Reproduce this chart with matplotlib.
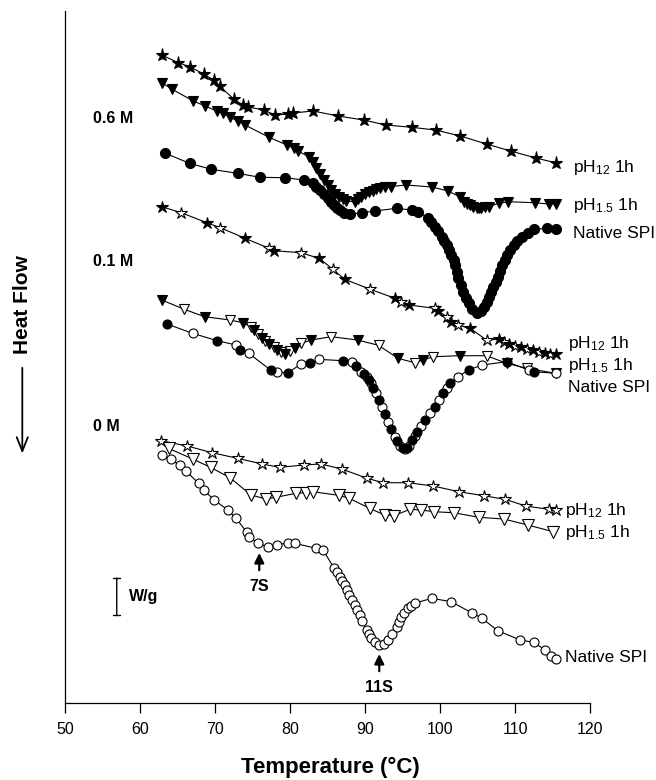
import numpy as np
import matplotlib.pyplot as plt

plt.rcParams['font.family'] = ['Liberation Sans', 'DejaVu Sans']
plt.rcParams['mathtext.fontset'] = 'custom'
plt.rcParams['mathtext.rm'] = 'Liberation Sans'
plt.rcParams['mathtext.default'] = 'regular'

# temperature (C) and heat flow (arbitrary offset units, 3.7 units = 1 W/g)
# ---- 0.6 M ----
t06_ph12 = [62.9, 65.1, 66.6, 68.5, 69.8, 70.6, 72.5, 73.7, 74.4, 76.5, 78.0, 79.7,
            80.4, 83.1, 86.4, 89.8, 92.8, 96.2, 99.4, 102.7, 106.2, 109.4, 112.8, 115.5]
hf06_ph12 = [66.5, 65.73, 65.33, 64.6, 64.0, 63.4, 62.1, 61.5, 61.3, 61.0, 60.5, 60.6,
             60.7, 60.9, 60.4, 60.0, 59.5, 59.27, 59.0, 58.4, 57.6, 56.9, 56.2, 55.7]

t06_ph15 = [62.9, 64.3, 67.1, 68.6, 70.2, 71.0, 72.0, 73.0, 74.0, 77.2, 79.6, 80.5, 81.0,
            82.5, 83.0, 83.5, 84.0, 84.5, 85.0, 85.5, 86.0, 86.5, 87.0, 87.4,
            88.6, 89.0, 89.5, 90.0, 90.5, 91.0, 91.5, 92.0, 92.7, 93.5, 95.5, 98.9,
            101.1, 102.6, 103.2, 103.6, 104.0, 104.4, 104.9, 105.2, 105.5, 106.0, 106.5,
            107.8, 109.1, 112.6, 114.5, 115.5]
hf06_ph15 = [63.73, 63.07, 61.9, 61.43, 60.9, 60.67, 60.27, 59.93, 59.5, 58.27, 57.5, 57.17, 56.93,
             56.33, 55.8, 55.2, 54.6, 54.0, 53.5, 53.0, 52.6, 52.3, 52.1, 51.9,
             51.83, 52.1, 52.35, 52.6, 52.8, 52.95, 53.1, 53.2, 53.3, 53.35, 53.5, 53.3,
             52.9, 52.33, 51.83, 51.65, 51.5, 51.35, 51.2, 51.2, 51.25, 51.3, 51.33,
             51.67, 51.83, 51.73, 51.6, 51.6]

t06_nat = [63.3, 66.6, 69.5, 73.0, 76.0, 79.3, 81.9, 83.0, 83.5, 84.0, 84.5, 85.0, 85.4,
           85.8, 86.2, 86.6, 87.2, 88.0, 89.6, 91.3, 94.2, 96.2, 97.1, 98.4, 98.8, 99.3,
           99.7, 100.2, 100.5, 100.9, 101.2, 101.5, 101.8, 102.0, 102.2, 102.4, 102.8,
           103.1, 103.5, 103.8, 104.3, 104.9, 105.4, 105.8, 106.2, 106.5, 106.8, 107.1,
           107.4, 107.7, 108.0, 108.2, 108.6, 108.9, 109.3, 109.8, 110.3, 110.9, 111.7,
           112.5, 114.3, 115.4]
hf06_nat = [56.7, 55.67, 55.07, 54.67, 54.27, 54.23, 54.0, 53.67, 53.3, 53.0, 52.6, 52.2, 51.85,
            51.5, 51.2, 51.0, 50.7, 50.57, 50.73, 50.9, 51.17, 51.0, 50.83, 50.17, 49.8, 49.33,
            48.9, 48.33, 47.9, 47.5, 47.0, 46.5, 46.0, 45.5, 44.8, 44.17, 43.5,
            42.83, 42.2, 41.67, 41.1, 40.67, 40.9, 41.33, 41.8, 42.33, 42.8, 43.33,
            43.8, 44.33, 44.9, 45.5, 46.0, 46.5, 47.0, 47.5, 47.9, 48.33, 48.75,
            49.07, 49.17, 49.07]

# ---- 0.1 M ----
t01_ph12 = [62.9, 65.5, 68.9, 70.7, 74.0, 77.2, 77.9, 81.4, 83.9, 85.7, 87.3, 90.7, 94.0,
            94.8, 95.9, 99.3, 99.7, 100.9, 101.5, 102.4, 104.0, 106.2, 107.8, 108.5, 109.2,
            110.0, 110.8, 111.6, 112.4, 113.2, 114.0, 114.6, 115.4]
hf01_ph12 = [51.33, 50.73, 49.73, 49.23, 48.17, 47.17, 46.93, 46.73, 46.17, 45.07, 44.07, 43.07, 42.17,
             41.83, 41.5, 41.17, 40.93, 40.33, 39.83, 39.5, 39.17, 38.0, 38.07, 37.8, 37.6,
             37.45, 37.3, 37.15, 37.0, 36.85, 36.75, 36.65, 36.57]

t01_ph15 = [62.9, 65.9, 68.6, 72.0, 73.7, 74.8, 75.2, 75.7, 76.2, 76.7, 77.2, 77.8, 78.3,
            78.8, 79.3, 80.0, 80.6, 81.5, 82.8, 85.5, 89.0, 91.8, 94.4, 96.6, 97.7, 99.1,
            102.6, 106.2, 108.9, 111.6, 115.4]
hf01_ph15 = [42.0, 41.07, 40.33, 40.0, 39.73, 39.33, 39.0, 38.6, 38.2, 37.9, 37.6, 37.3, 37.0,
             36.8, 36.6, 36.9, 37.17, 37.67, 38.0, 38.33, 38.0, 37.47, 36.17, 35.73, 36.0, 36.33,
             36.43, 36.43, 35.67, 35.17, 34.67]

t01_nat = [63.6, 67.0, 70.3, 72.8, 73.3, 74.5, 77.4, 78.3, 79.7, 81.5, 82.6, 83.8, 87.0,
           88.2, 88.8, 89.5, 89.9, 90.2, 90.5, 90.8, 91.1, 91.5, 91.8, 92.2, 92.6, 93.1,
           93.5, 94.0, 94.3, 94.7, 95.0, 95.3, 95.6, 95.9, 96.3, 96.6, 96.9, 97.4, 98.0,
           98.6, 99.3, 99.8, 100.4, 100.9, 101.3, 102.4, 103.8, 105.6, 108.9, 111.8, 112.5,
           115.4]
hf01_nat = [39.6, 38.67, 37.93, 37.5, 37.0, 36.67, 35.0, 34.77, 34.73, 35.6, 35.67, 36.07, 35.93,
            35.77, 35.4, 34.83, 34.6, 34.3, 34.0, 33.67, 33.2, 32.67, 32.0, 31.33, 30.6, 29.83,
            29.1, 28.33, 27.9, 27.4, 27.2, 27.1, 27.2, 27.4, 28.0, 28.4, 28.83, 29.4, 30.0,
            30.7, 31.33, 32.0, 32.67, 33.2, 33.67, 34.33, 35.0, 35.5, 35.83, 35.0, 34.83,
            34.67]

# ---- 0 M ----
t0_ph12 = [62.8, 66.3, 69.6, 73.0, 76.3, 78.6, 81.9, 84.1, 86.9, 90.3, 92.4, 95.7, 99.1,
           102.5, 105.8, 108.7, 111.4, 114.5, 115.4]
hf0_ph12 = [27.93, 27.4, 26.73, 26.17, 25.6, 25.27, 25.5, 25.6, 25.1, 24.17, 23.73, 23.73, 23.4,
            22.83, 22.43, 22.07, 21.4, 21.07, 21.0]

t0_ph15 = [63.8, 67.1, 69.4, 72.0, 74.8, 76.8, 78.1, 80.8, 82.1, 83.0, 86.5, 87.9, 90.6,
           92.6, 93.9, 96.0, 97.5, 99.2, 101.8, 105.2, 108.5, 111.7, 115.1]
hf0_ph15 = [27.17, 26.07, 25.27, 24.23, 22.5, 22.1, 22.27, 22.67, 22.73, 22.83, 22.47, 22.17, 21.17,
            20.5, 20.45, 21.07, 21.0, 20.83, 20.73, 20.27, 20.1, 19.5, 18.83]

t0_nat = [62.9, 64.1, 65.3, 66.1, 67.8, 68.5, 69.9, 71.7, 72.8, 74.2, 74.5, 75.7, 77.0, 78.3,
          79.7, 80.6, 83.5, 84.4, 85.9, 86.2, 86.6, 86.9, 87.3, 87.6, 87.9, 88.2, 88.6, 88.9,
          89.3, 89.6, 90.2, 90.5, 90.8, 91.3, 91.9, 92.5, 93.1, 93.6, 94.2, 94.5, 94.8, 95.2,
          95.7, 96.1, 96.6, 98.9, 101.5, 104.2, 105.6, 107.7, 110.7, 112.5, 114.0, 114.8, 115.4]
hf0_nat = [26.5, 26.07, 25.5, 24.93, 23.67, 23.0, 22.0, 21.0, 20.17, 18.83, 18.27, 17.73, 17.27, 17.5,
           17.73, 17.67, 17.17, 17.0, 15.17, 14.8, 14.33, 13.9, 13.5, 13.0, 12.5, 12.0, 11.5, 11.0,
           10.5, 9.9, 9.0, 8.6, 8.17, 7.8, 7.5, 7.6, 8.0, 8.6, 9.33, 9.8, 10.33, 10.7,
           11.17, 11.4, 11.67, 12.17, 11.83, 10.73, 10.17, 8.93, 8.0, 7.77, 7.0, 6.43, 6.07]

x_ticks = [50, 60, 70, 80, 90, 100, 110, 120]
conc_labels = ['0.6 M', '0.1 M', '0 M']
conc_y = [60.17, 45.83, 29.4]
series_names = [r'pH$_{12}$ 1h', r'pH$_{1.5}$ 1h', 'Native SPI']
name_y = [[55.3, 51.5, 48.7], [37.7, 35.5, 33.3], [21.0, 18.8, 6.3]]
name_x = [117.7, 117.1, 116.7]
peaks = ['7S', '11S']
peak_t = [75.9, 91.9]
peak_hf = [16.7, 6.6]
wg_len = 3.7  # 1 W/g in plot units


fig = plt.figure(figsize=(6.56, 7.8), dpi=100)
ax = fig.add_axes([0.0991, 0.0987, 0.8003, 0.8872])


def trace(t, hf, marker, ms, style):
    t = np.array(t)
    hf = np.array(hf)
    ax.plot(t, hf, color='black', lw=0.8, zorder=2)
    if style == 'filled':
        ax.plot(t, hf, ls='none', marker=marker, ms=ms, mfc='black', mec='black', mew=0.8, zorder=3)
    elif style == 'open':
        ax.plot(t, hf, ls='none', marker=marker, ms=ms, mfc='white', mec='black', mew=0.8, zorder=3)
    else:  # alternating filled / open
        ax.plot(t[1::2], hf[1::2], ls='none', marker=marker, ms=ms, mfc='white', mec='black', mew=0.8, zorder=3)
        ax.plot(t[0::2], hf[0::2], ls='none', marker=marker, ms=ms, mfc='black', mec='black', mew=0.8, zorder=3)


trace(t06_ph12, hf06_ph12, '*', 9.5, 'filled')
trace(t06_ph15, hf06_ph15, 'v', 7.5, 'filled')
trace(t06_nat, hf06_nat, 'o', 7.2, 'filled')

trace(t01_ph12, hf01_ph12, '*', 9, 'alt')
trace(t01_ph15, hf01_ph15, 'v', 7, 'alt')
trace(t01_nat, hf01_nat, 'o', 6.5, 'alt')

trace(t0_ph12, hf0_ph12, '*', 9, 'open')
trace(t0_ph15, hf0_ph15, 'v', 8, 'open')
trace(t0_nat, hf0_nat, 'o', 6.5, 'open')

# concentration labels and series names
for lab, y in zip(conc_labels, conc_y):
    ax.text(53.7, y, lab, fontsize=11.5, fontweight='bold', ha='left', va='center')
for i in range(3):
    for name, y in zip(series_names, name_y[i]):
        ax.text(name_x[i], y, name, fontsize=12.5, ha='left', va='center')

# 7S / 11S arrows
for lab, t, hf in zip(peaks, peak_t, peak_hf):
    ax.annotate(lab, xy=(t, hf), xytext=(t, hf - 3.3), ha='center', va='center',
                fontsize=11.5, fontweight='bold',
                arrowprops=dict(arrowstyle='-|>,head_width=0.25,head_length=0.5',
                                color='black', lw=1.6, shrinkA=4, shrinkB=0))

# W/g scale bar
ax.annotate('', xy=(56.9, 10.5 + wg_len), xytext=(56.9, 10.5),
            arrowprops=dict(arrowstyle='|-|,widthA=0.25,widthB=0.25', color='black',
                            lw=1.0, shrinkA=0, shrinkB=0))
ax.text(58.5, 10.5 + wg_len / 2, 'W/g', fontsize=11.5, fontweight='bold', ha='left', va='center')

ax.set_xlim(50, 120)
ax.set_ylim(1.7, 70.9)
ax.set_xticks(x_ticks)
ax.set_yticks([])
ax.spines['top'].set_visible(False)
ax.spines['right'].set_visible(False)
ax.spines['left'].set_linewidth(0.9)
ax.spines['bottom'].set_linewidth(0.9)
ax.tick_params(axis='x', direction='out', length=7, width=0.9, pad=7, labelsize=11.5)

fig.text(0.503, 0.016, 'Temperature (°C)', fontsize=16, fontweight='bold', ha='center', va='center')
fig.text(0.034, 0.609, 'Heat Flow', fontsize=15, fontweight='bold', rotation=90, ha='center', va='center')
fig.add_artist(plt.matplotlib.patches.FancyArrowPatch(
    (0.034, 0.532), (0.034, 0.415), transform=fig.transFigure,
    arrowstyle='->,head_length=10,head_width=4', color='black', lw=1.3))

fig.savefig('out.png', dpi=100)
